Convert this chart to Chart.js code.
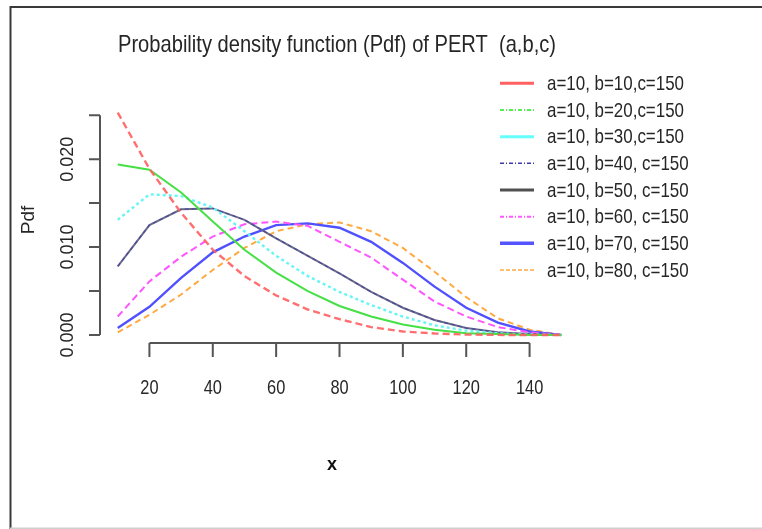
<!DOCTYPE html>
<html>
<head>
<meta charset="utf-8">
<script src="https://cdn.jsdelivr.net/npm/chart.js@4.4.1/dist/chart.umd.min.js"></script>
<style>
html,body{margin:0;padding:0;background:#fff;}
canvas{display:block;}
</style>
</head>
<body>
<canvas id="c" width="762" height="529"></canvas>
<script>
// ---- data ----
const xValues = [10,20,30,40,50,60,70,80,90,100,110,120,130,140,150];
const pdfB10 = [0.0253,0.0189,0.0139,0.0097,0.0067,0.0045,0.0029,0.0018,0.0009,0.0004,0.00017,0.00005,0.00001,0,0];
const pdfB20 = [0.0194,0.0188,0.0162,0.0129,0.0097,0.0071,0.0050,0.0033,0.0021,0.0012,0.0006,0.0002,0.0001,0,0];
const pdfB30 = [0.0131,0.0160,0.0158,0.0145,0.0118,0.0090,0.0067,0.0049,0.0034,0.0021,0.0011,0.0005,0.0002,0.00005,0];
const pdfB40 = [0.0078,0.0125,0.0143,0.0144,0.0131,0.0110,0.0090,0.0070,0.0049,0.0031,0.0017,0.0008,0.0003,0.0001,0];
const pdfB50 = [0.0078,0.0125,0.0143,0.0144,0.0131,0.0110,0.0090,0.0070,0.0049,0.0031,0.0017,0.0008,0.0003,0.0001,0];
const pdfB60 = [0.0021,0.0061,0.0089,0.0112,0.0126,0.0129,0.0124,0.0106,0.0088,0.0063,0.0038,0.0021,0.0009,0.0003,0];
const pdfB70 = [0.0008,0.0032,0.0065,0.0094,0.0112,0.0125,0.0127,0.0122,0.0106,0.0082,0.0055,0.0031,0.0014,0.0004,0];
const pdfB80 = [0.0003,0.0023,0.0046,0.0074,0.0099,0.0118,0.0126,0.0128,0.0118,0.0099,0.0072,0.0043,0.0019,0.0006,0];
const seriesLabels = ["a=10, b=10,c=150","a=10, b=20,c=150","a=10, b=30,c=150","a=10, b=40, c=150","a=10, b=50, c=150","a=10, b=60, c=150","a=10, b=70, c=150","a=10, b=80, c=150"];
const xTicks = [20,40,60,80,100,120,140];
const yTicks = [0,0.005,0.010,0.015,0.020,0.025];
const yTickLabelValues = [0,0.010,0.020];
const yTickLabels = ["0.000","0.010","0.020"];
const titleText = "Probability density function (Pdf) of PERT  (a,b,c)";
const xLabel = "x";
const yLabel = "Pdf";

// ---- styles ----
const seriesData = [pdfB10,pdfB20,pdfB30,pdfB40,pdfB50,pdfB60,pdfB70,pdfB80];
const lineStyles = [
  {color:'rgba(255,95,95,0.9)', width:2.4, dash:[7,4]},
  {color:'#45e045', width:2, dash:[]},
  {color:'#66f5f5', width:2.4, dash:[3,3]},
  {color:'rgba(50,50,170,0.55)', width:1.4, dash:[4,3]},
  {color:'rgba(100,100,130,0.95)', width:2, dash:[]},
  {color:'#ff55ff', width:2, dash:[7,4]},
  {color:'#5050ff', width:2.4, dash:[]},
  {color:'#ffaa40', width:2, dash:[6,4]}
];
const legendStyles = [
  {color:'#ff6060', width:3, dash:[]},
  {color:'#55ee55', width:2, dash:[4,2,1,2]},
  {color:'#66ffff', width:3, dash:[]},
  {color:'#3a3aa8', width:1.5, dash:[4,2,1,2]},
  {color:'#505050', width:3, dash:[]},
  {color:'#ff55ff', width:2, dash:[4,2,1,2]},
  {color:'#5555ff', width:3.5, dash:[]},
  {color:'#ffaa44', width:1.5, dash:[4,2]}
];

const datasets = seriesData.map((arr,i)=>({
  label: seriesLabels[i],
  data: xValues.map((x,j)=>({x:x, y:arr[j]})),
  borderColor: lineStyles[i].color,
  borderWidth: lineStyles[i].width,
  borderDash: lineStyles[i].dash,
  pointRadius: 0,
  fill: false,
  tension: 0
}));

function txt(ctx, s, x, y, o){
  ctx.save();
  ctx.translate(x,y);
  if(o.rot) ctx.rotate(o.rot);
  ctx.font = o.font;
  let sx = 1;
  if(o.width){ sx = o.width/ctx.measureText(s).width; }
  if(o.sx) sx = o.sx;
  ctx.scale(sx,1);
  ctx.textAlign = o.align||'left';
  ctx.textBaseline = o.base||'alphabetic';
  ctx.fillStyle = o.color||'#262626';
  ctx.fillText(s,0,0);
  ctx.restore();
}

const decor = {
  id:'decor',
  afterDraw(chart){
    const ctx = chart.ctx, xs = chart.scales.x, ys = chart.scales.y, ca = chart.chartArea;
    ctx.save();
    // frame
    ctx.strokeStyle='#3a3a3a'; ctx.lineWidth=2;
    ctx.beginPath(); ctx.moveTo(10.5,529); ctx.lineTo(10.5,7); ctx.lineTo(762,7); ctx.stroke();
    ctx.strokeStyle='#cfcfcf'; ctx.lineWidth=1.5;
    ctx.beginPath(); ctx.moveTo(10,528.2); ctx.lineTo(762,528.2); ctx.stroke();
    // axes
    ctx.strokeStyle='#555'; ctx.lineWidth=2;
    const ax = ca.left, ay = ca.bottom;
    ctx.beginPath();
    ctx.moveTo(ax, ys.getPixelForValue(yTicks[0])); ctx.lineTo(ax, ys.getPixelForValue(yTicks[yTicks.length-1]));
    yTicks.forEach(v=>{const p=ys.getPixelForValue(v); ctx.moveTo(ax,p); ctx.lineTo(ax-11,p);});
    ctx.moveTo(xs.getPixelForValue(xTicks[0]), ay); ctx.lineTo(xs.getPixelForValue(xTicks[xTicks.length-1]), ay);
    xTicks.forEach(v=>{const p=xs.getPixelForValue(v); ctx.moveTo(p,ay); ctx.lineTo(p,ay+14);});
    ctx.stroke();
    // tick labels
    xTicks.forEach(v=>{
      txt(ctx, String(v), xs.getPixelForValue(v), 388, {font:'21px "Liberation Sans"', sx:0.78, align:'center', base:'middle'});
    });
    yTickLabelValues.forEach((v,i)=>{
      txt(ctx, yTickLabels[i], 68, ys.getPixelForValue(v), {font:'18px "Liberation Sans"', rot:-Math.PI/2, align:'center', base:'middle'});
    });
    // axis titles
    txt(ctx, xLabel, 332, 465, {font:'bold 18px "Liberation Sans"', align:'center', base:'middle', color:'#111'});
    txt(ctx, yLabel, 29, 220, {font:'19px "Liberation Sans"', rot:-Math.PI/2, align:'center', base:'middle'});
    // title
    txt(ctx, titleText, 118, 52, {font:'24px "Liberation Sans"', width:438});
    // legend
    ctx.font = '21px "Liberation Sans"';
    const lsx = 137/ctx.measureText(seriesLabels[0]).width;
    seriesLabels.forEach((s,i)=>{
      const cy = 83.3 + i*26.67;
      const st = legendStyles[i];
      ctx.save();
      ctx.strokeStyle = st.color; ctx.lineWidth = st.width; ctx.setLineDash(st.dash);
      ctx.beginPath(); ctx.moveTo(500,cy); ctx.lineTo(534,cy); ctx.stroke();
      ctx.restore();
      txt(ctx, s, 547, cy+1, {font:'21px "Liberation Sans"', sx:lsx, base:'middle'});
    });
    ctx.restore();
  }
};

new Chart(document.getElementById('c'), {
  type:'line',
  data:{datasets:datasets},
  options:{
    responsive:false,
    animation:false,
    devicePixelRatio:1,
    layout:{padding:{left:100, right:183, top:102, bottom:186}},
    scales:{
      x:{type:'linear', min:4.4, max:155.6, display:false},
      y:{type:'linear', min:-0.00091, max:0.0265, display:false}
    },
    plugins:{legend:{display:false}, title:{display:false}, tooltip:{enabled:false}},
    elements:{line:{capBezierPoints:false}}
  },
  plugins:[decor]
});
</script>
</body>
</html>
